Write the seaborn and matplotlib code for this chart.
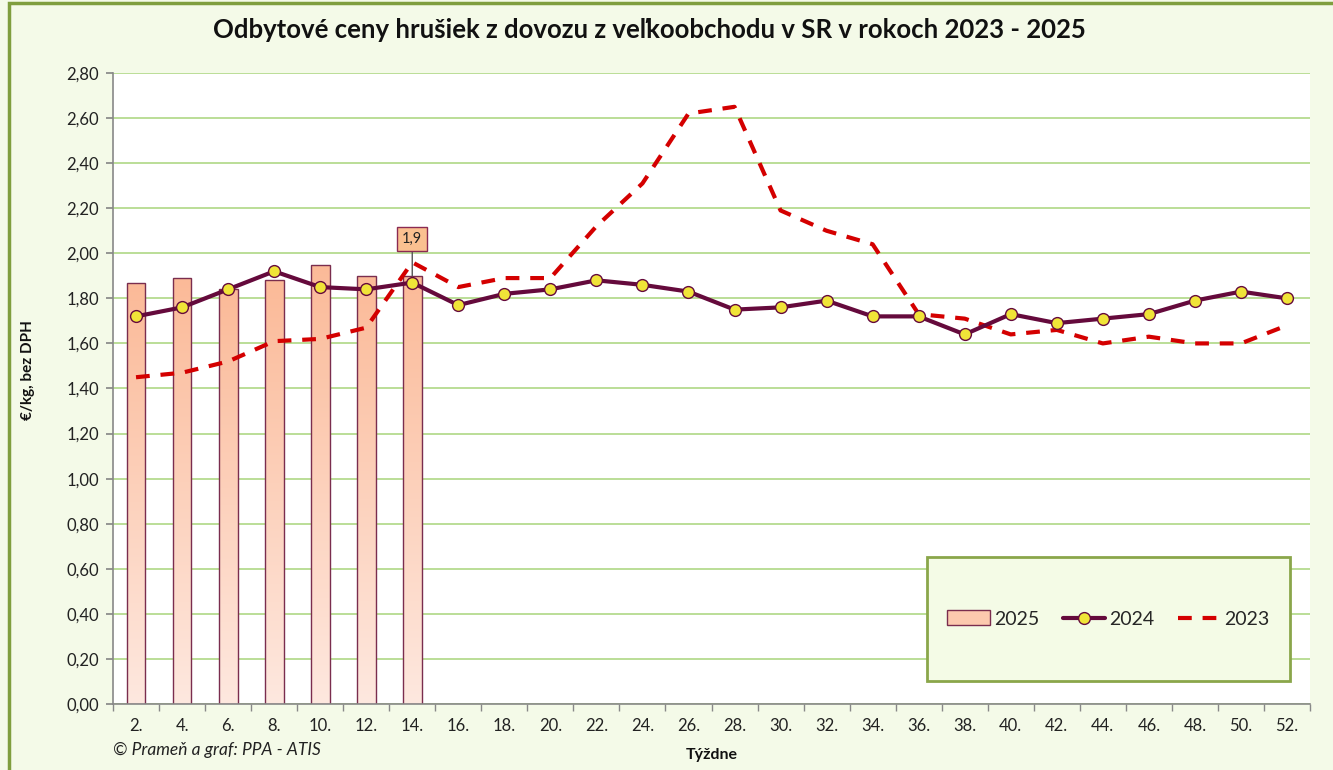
import numpy as np
import pandas as pd
import matplotlib
matplotlib.use("Agg")
import matplotlib.pyplot as plt
import seaborn as sns
from matplotlib.patches import Rectangle, Patch
from matplotlib.lines import Line2D
from matplotlib.ticker import FuncFormatter, MultipleLocator

# ---------------- data ----------------
weeks = [f"{w}." for w in range(2, 53, 2)]
prices_2025 = [1.87, 1.89, 1.84, 1.88, 1.95, 1.90, 1.90] + [np.nan] * 19
prices_2024 = [1.72, 1.76, 1.84, 1.92, 1.85, 1.84, 1.87, 1.77, 1.82, 1.84,
               1.88, 1.86, 1.83, 1.75, 1.76, 1.79, 1.72, 1.72, 1.64, 1.73,
               1.69, 1.71, 1.73, 1.79, 1.83, 1.80]
prices_2023 = [1.45, 1.47, 1.52, 1.61, 1.62, 1.67, 1.96, 1.85, 1.89, 1.89,
               2.12, 2.31, 2.62, 2.65, 2.19, 2.10, 2.04, 1.73, 1.71, 1.64,
               1.66, 1.60, 1.63, 1.60, 1.60, 1.68]
series_names = ["2025", "2024", "2023"]
title = "Odbytové ceny hrušiek z dovozu z veľkoobchodu v SR v rokoch 2023 - 2025"
ylabel = "€/kg, bez DPH"
xlabel = "Týždne"
source = "© Prameň a graf: PPA - ATIS"

df = pd.DataFrame({"week": weeks, "y2025": prices_2025,
                   "y2024": prices_2024, "y2023": prices_2023})
df["pos"] = np.arange(len(df))

# ---------------- style ----------------
sns.set_theme(style="white")
plt.rcParams["font.family"] = ["Lato", "DejaVu Sans"]

BG = "#F4FAE8"
GRID = "#A8D47A"
MAROON = "#650A3C"
RED = "#D40000"
YELLOW = "#F0E438"

W, H = 1333, 770
fig = plt.figure(figsize=(13.33, 7.7), dpi=100, facecolor=BG)
ax = fig.add_axes([113 / W, 66 / H, (1310 - 113) / W, (704 - 73) / H])
ax.set_facecolor("white")

# frame around the chart
fig.patches.append(Rectangle((9 / W, -0.05), 1.2, 767 / H + 0.05,
                             transform=fig.transFigure, fill=False,
                             ec="#7F9E3E", lw=2.5, zorder=0))

# bars (2025)
sns.barplot(data=df, x="week", y="y2025", order=weeks, width=0.41,
            color="#FBBB98", edgecolor="#7A2D4E", linewidth=1.0,
            ax=ax, zorder=2, saturation=1)

# gradient fill for bars
top_c = np.array([251, 186, 152]) / 255
bot_c = np.array([254, 232, 223]) / 255
grad = np.linspace(0, 1, 256)[:, None]
img = (bot_c[None, None, :] * (1 - grad[..., None]) + top_c[None, None, :] * grad[..., None])
img = np.repeat(img, 2, axis=1)
for p in list(ax.patches):
    h = p.get_height()
    if not np.isfinite(h) or h <= 0:
        continue
    x0 = p.get_x()
    w = p.get_width()
    im = ax.imshow(img, extent=[x0, x0 + w, 0, h], origin="lower",
                   aspect="auto", zorder=2.1, interpolation="bilinear")
    im.set_clip_path(p)
    p.set_facecolor("none")
    p.set_zorder(2.2)

# 2023 dashed line
sns.lineplot(data=df, x="pos", y="y2023", ax=ax, color=RED, lw=3,
             dashes=False, zorder=3)
ax.lines[-1].set_dashes([3.3, 2.6])

# 2024 line with markers
sns.lineplot(data=df, x="pos", y="y2024", ax=ax, color=MAROON, lw=3,
             marker="o", markersize=8.5, markerfacecolor=YELLOW,
             markeredgecolor=MAROON, markeredgewidth=1.0, zorder=4)

# data label on last 2025 bar
last_idx = int(df["y2025"].last_valid_index())
last_val = df.loc[last_idx, "y2025"]
ax.annotate(f"{last_val:.1f}".replace(".", ","),
            xy=(last_idx, last_val), xytext=(last_idx, 2.065),
            ha="center", va="center", fontsize=10.5, color="#222",
            bbox=dict(boxstyle="square,pad=0.35", fc="#FAC090", ec="#8B2A52", lw=1),
            arrowprops=dict(arrowstyle="-", color="#555", lw=1, shrinkA=0, shrinkB=0),
            zorder=6)

# axes
ax.set_xlim(-0.5, len(weeks) - 0.5)
ax.set_ylim(0, 2.8)
ax.yaxis.set_major_locator(MultipleLocator(0.2))
ax.yaxis.set_major_formatter(FuncFormatter(lambda v, _: f"{v:.2f}".replace(".", ",")))
ax.set_xticks(df["pos"])
ax.set_xticklabels(weeks)
ax.set_xticks(np.arange(-0.5, len(weeks), 1), minor=True)
ax.tick_params(axis="x", which="major", length=0, pad=10, labelsize=12, colors="#222")
ax.tick_params(axis="x", which="minor", length=5, color="#888", direction="out", bottom=True)
ax.tick_params(axis="y", length=5, color="#888", direction="out", labelsize=12,
               colors="#222", left=True, pad=5)
ax.grid(axis="y", color=GRID, lw=1.1, zorder=0)
ax.grid(axis="x", visible=False)
ax.set_axisbelow(True)
for s in ["top", "right"]:
    ax.spines[s].set_visible(False)
for s in ["left", "bottom"]:
    ax.spines[s].set_color("#888")
    ax.spines[s].set_linewidth(1.2)

ax.set_xlabel(xlabel, fontsize=11.5, fontweight="bold", labelpad=10, color="#111")
ax.set_ylabel(ylabel, fontsize=11, fontweight="bold", color="#111")
ax.yaxis.set_label_coords((35 - 113) / (1310 - 113), 1 - (370 - 73) / (704 - 73))
fig.text(649 / W, 1 - 30 / H, title, fontsize=18.5, fontweight="bold",
         ha="center", va="center", color="#111")
fig.text(113 / W, 1 - 750 / H, source, fontsize=12.5, style="italic",
         ha="left", va="center", color="#222")

# legend box
lx0, lx1, ly0, ly1 = 927, 1290, 557, 681
fig.patches.append(Rectangle((lx0 / W, 1 - ly1 / H), (lx1 - lx0) / W, (ly1 - ly0) / H,
                             transform=fig.transFigure, fc="#F4FBE6",
                             ec="#8AA64A", lw=2, zorder=5))
handles = [
    Patch(facecolor="#FCC9AE", edgecolor="#7A2D4E", lw=1),
    Line2D([], [], color=MAROON, lw=3, marker="o", markersize=8.5,
           markerfacecolor=YELLOW, markeredgecolor=MAROON),
    Line2D([], [], color=RED, lw=3, dashes=[3.3, 2.6]),
]
leg = fig.legend(handles, series_names, ncol=3,
                 loc="center", bbox_to_anchor=((lx0 + lx1) / 2 / W, 1 - 619 / H),
                 bbox_transform=fig.transFigure,
                 fontsize=14, frameon=False,
                 handlelength=2.2, handletextpad=0.2, handleheight=0.8,
                 columnspacing=1.2, borderaxespad=0)
leg.set_zorder(8)

fig.savefig("out.png", dpi=100, facecolor=BG)
